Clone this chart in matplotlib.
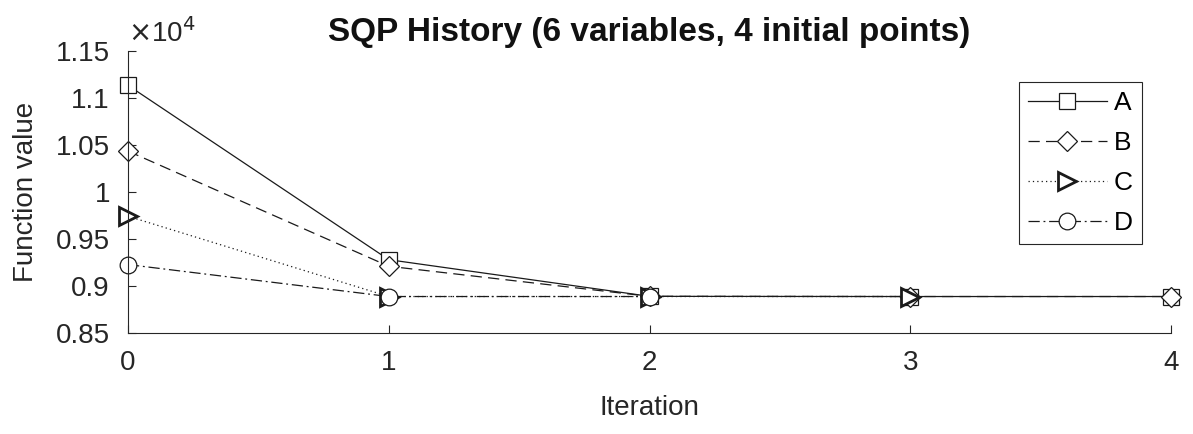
import numpy as np
import matplotlib
matplotlib.use("Agg")
import matplotlib.pyplot as plt

plt.rcParams.update({
    "font.family": ["Liberation Sans", "DejaVu Sans"],
    "font.size": 20,
    "axes.linewidth": 0.8,
    "axes.edgecolor": "#262626",
    "xtick.color": "#262626",
    "ytick.color": "#262626",
    "xtick.direction": "in",
    "ytick.direction": "in",
})

# ---- data (function values) -------------------------------------------------
iters_a = [0, 1, 2, 3, 4]
vals_a = [11135, 9280, 8890, 8888, 8888]
iters_b = [0, 1, 2, 3, 4]
vals_b = [10435, 9210, 8890, 8888, 8888]
iters_c = [0, 1, 2, 3]
vals_c = [9742, 8888, 8888, 8888]
iters_d = [0, 1, 2]
vals_d = [9228, 8888, 8888]

fig = plt.figure(figsize=(11.93, 4.34), dpi=100)
ax = fig.add_axes([128 / 1193, 1 - 333 / 434, (1171 - 128) / 1193, (333 - 51) / 434])

kw = dict(color="#1a1a1a", lw=0.9, mfc="white", mec="#1a1a1a")
ax.plot(iters_a, vals_a, ls="-", marker="s", ms=11, mew=0.9, label="A", **kw)
ax.plot(iters_b, vals_b, ls=(0, (9, 5)), marker="D", ms=10, mew=0.9, label="B", **kw)
ax.plot(iters_c, vals_c, ls=(0, (1, 2.5)), marker=">", ms=13, mew=2.0, label="C", **kw)
ax.plot(iters_d, vals_d, ls=(0, (9, 3, 1.5, 3)), marker="o", ms=12, mew=0.9, label="D", **kw)

ax.set_xlim(0, 4)
ax.set_ylim(8500, 11500)
ax.set_xticks([0, 1, 2, 3, 4])
ax.set_yticks(np.arange(8500, 11501, 500))
ax.set_yticklabels(["0.85", "0.9", "0.95", "1", "1.05", "1.1", "1.15"])
ax.tick_params(length=6, width=0.8, labelsize=20, labelcolor="#262626")
ax.tick_params(axis="x", pad=12)
ax.tick_params(axis="y", pad=13)
ax.spines["top"].set_visible(False)
ax.spines["right"].set_visible(False)
for ln in ax.lines:
    ln.set_clip_on(False)

ax.text(0.0, 1.01, r"$\times$10$^4$", transform=ax.transAxes, fontsize=20,
        color="#262626", ha="left", va="bottom")

ax.set_xlabel("Iteration", fontsize=20, color="#262626", labelpad=14)
ax.set_ylabel("Function value", fontsize=20, color="#262626", labelpad=12)
ax.set_title("SQP History (6 variables, 4 initial points)", fontsize=24,
             fontweight="bold", pad=7, color="#111111")

leg = ax.legend(loc="upper right", bbox_to_anchor=(0.972, 0.89), fontsize=19,
                frameon=True, fancybox=False, edgecolor="#262626",
                framealpha=1, handlelength=3.0, handletextpad=0.25,
                labelspacing=0.6, borderpad=0.35, borderaxespad=0)
leg.get_frame().set_linewidth(0.8)

fig.savefig("out.png", dpi=100)
